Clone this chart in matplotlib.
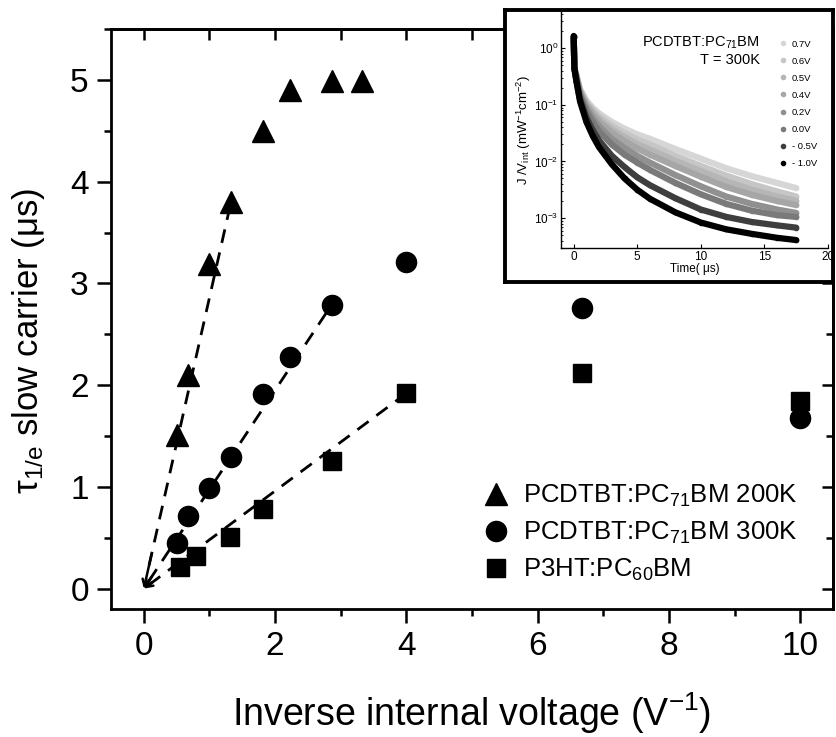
import matplotlib
matplotlib.use('Agg')
import matplotlib.pyplot as plt
import numpy as np
from matplotlib.ticker import MultipleLocator, LogLocator, NullFormatter
from matplotlib.lines import Line2D

plt.rcParams['font.family'] = ['Liberation Sans', 'DejaVu Sans']
plt.rcParams['mathtext.fontset'] = 'custom'
plt.rcParams['mathtext.rm'] = 'Liberation Sans'
plt.rcParams['mathtext.it'] = 'Liberation Sans:italic'
plt.rcParams['mathtext.bf'] = 'Liberation Sans:bold'
plt.rcParams['mathtext.sf'] = 'Liberation Sans'

# ---------------- main data ----------------
x_200K = [0.5, 0.67, 1.0, 1.33, 1.82, 2.22, 2.86, 3.33]
y_200K = [1.51, 2.10, 3.19, 3.80, 4.50, 4.90, 4.99, 4.99]
x_300K = [0.5, 0.67, 1.0, 1.33, 1.82, 2.22, 2.86, 4.0, 6.67, 10.0]
y_300K = [0.45, 0.715, 0.99, 1.29, 1.91, 2.28, 2.79, 3.21, 2.76, 1.68]
x_p3ht = [0.55, 0.79, 1.31, 1.82, 2.86, 4.0, 6.67, 10.0]
y_p3ht = [0.21, 0.32, 0.51, 0.78, 1.25, 1.92, 2.12, 1.84]
labels = ['PCDTBT:PC$_{71}$BM 200K', 'PCDTBT:PC$_{71}$BM 300K', 'P3HT:PC$_{60}$BM']

# linear fits through the origin (slope, end of fitted range)
fit_slopes = [2.86, 0.975, 0.48]
fit_xend = [1.33, 2.86, 4.0]

# ---------------- inset data ----------------
inset_t = [0.0, 0.05, 0.2, 0.5, 1, 1.5, 2, 3, 4, 5, 6, 8, 10, 12, 14, 16, 17.5]
inset_bias = ['0.7V', '0.6V', '0.5V', '0.4V', '0.2V', '0.0V', '- 0.5V', '- 1.0V']
# log10(J/V_int)
log_07 = [0.2, -0.35, -0.45, -0.72, -0.92, -1.05, -1.15, -1.30, -1.42, -1.52, -1.60, -1.78, -1.95, -2.12, -2.26, -2.38, -2.47]
log_06 = [0.2, -0.35, -0.47, -0.74, -0.95, -1.09, -1.20, -1.37, -1.50, -1.61, -1.70, -1.90, -2.08, -2.25, -2.40, -2.53, -2.62]
log_05 = [0.2, -0.35, -0.48, -0.76, -0.98, -1.13, -1.25, -1.43, -1.57, -1.69, -1.79, -1.99, -2.17, -2.35, -2.50, -2.62, -2.70]
log_04 = [0.2, -0.35, -0.49, -0.78, -1.01, -1.17, -1.30, -1.49, -1.64, -1.77, -1.88, -2.08, -2.27, -2.45, -2.59, -2.70, -2.77]
log_02 = [0.2, -0.35, -0.50, -0.81, -1.06, -1.24, -1.38, -1.60, -1.76, -1.90, -2.02, -2.24, -2.44, -2.62, -2.75, -2.85, -2.91]
log_00 = [0.2, -0.35, -0.52, -0.84, -1.11, -1.31, -1.47, -1.70, -1.88, -2.02, -2.15, -2.38, -2.58, -2.75, -2.87, -2.95, -2.98]
log_m05 = [0.2, -0.35, -0.55, -0.90, -1.22, -1.45, -1.63, -1.90, -2.10, -2.28, -2.42, -2.65, -2.85, -2.98, -3.07, -3.13, -3.17]
log_m10 = [0.22, -0.35, -0.57, -0.94, -1.30, -1.55, -1.75, -2.05, -2.30, -2.50, -2.66, -2.90, -3.08, -3.20, -3.28, -3.35, -3.39]
inset_logs = [log_07, log_06, log_05, log_04, log_02, log_00, log_m05, log_m10]
inset_colors = ['#d6d6d6', '#c6c6c6', '#b6b6b6', '#a6a6a6', '#909090', '#7a7a7a', '#3e3e3e', '#000000']

W, H = 836, 737
fig = plt.figure(figsize=(W / 100, H / 100), dpi=100)

# ---------------- main axes ----------------
L, R, T, B = 111, 833, 29, 609
ax = fig.add_axes([L / W, 1 - B / H, (R - L) / W, (B - T) / H])
ax.set_xlim(-0.5, 10.5)
ax.set_ylim(-0.2, 5.5)

ax.plot(x_200K, y_200K, ls='none', marker='^', color='k', ms=16.5, label=labels[0])
ax.plot(x_300K, y_300K, ls='none', marker='o', color='k', ms=14.5, label=labels[1])
ax.plot(x_p3ht, y_p3ht, ls='none', marker='s', color='k', ms=12.5, label=labels[2])

for s, xe in zip(fit_slopes, fit_xend):
    x0 = 0.08
    ax.plot([x0, xe], [x0 * s, xe * s], color='k', lw=2.0, ls=(0, (5, 3.5)), zorder=1)
    ax.annotate('', xy=(0, 0), xytext=(x0 * 1.5, x0 * 1.5 * s),
                arrowprops=dict(arrowstyle='->', color='k', lw=1.8, shrinkA=0, shrinkB=0,
                                mutation_scale=12))

ax.xaxis.set_major_locator(MultipleLocator(2))
ax.xaxis.set_minor_locator(MultipleLocator(1))
ax.yaxis.set_major_locator(MultipleLocator(1))
ax.yaxis.set_minor_locator(MultipleLocator(0.5))
ax.tick_params(which='both', direction='out', top=False, right=False, width=1.8, labelsize=24)
ax.tick_params(which='major', length=10, pad=6)
ax.tick_params(which='minor', length=5)
for sp in ax.spines.values():
    sp.set_linewidth(2.0)

secx = ax.secondary_xaxis('top')
secx.set_xticks(range(0, 11))
secx.tick_params(direction='in', length=8, width=1.8, labeltop=False)
secx.spines['top'].set_linewidth(2.0)
secy = ax.secondary_yaxis('right')
secy.yaxis.set_major_locator(MultipleLocator(1))
secy.yaxis.set_minor_locator(MultipleLocator(0.5))
secy.tick_params(which='both', direction='in', width=1.8, labelright=False)
secy.tick_params(which='major', length=8)
secy.tick_params(which='minor', length=5)
secy.spines['right'].set_linewidth(2.0)

ax.set_xlabel('Inverse internal voltage (V$^{-1}$)', fontsize=27, labelpad=20)
ax.set_ylabel(r'τ$_{\mathrm{1/e}}$ slow carrier (μs)', fontsize=25)
ax.yaxis.set_label_coords(-0.088, 0.462)

leg = ax.legend(loc='center left', bbox_to_anchor=(470 / W, 1 - 533 / H),
                bbox_transform=fig.transFigure, frameon=False, fontsize=18.5,
                handlelength=1.0, handletextpad=0.55, labelspacing=0.42, borderpad=0)

# ---------------- inset ----------------
fx0, fy0, fx1, fy1 = 505, 10, 833, 282
frame = fig.add_axes([fx0 / W, 1 - fy1 / H, (fx1 - fx0) / W, (fy1 - fy0) / H], zorder=5)
frame.set_xticks([])
frame.set_yticks([])
frame.set_facecolor('white')
for sp in frame.spines.values():
    sp.set_linewidth(2.8)

iL, iR, iT, iB = 561, 828, 12, 248
ins = fig.add_axes([iL / W, 1 - iB / H, (iR - iL) / W, (iB - iT) / H], zorder=6)
ins.patch.set_alpha(0)
ins.set_yscale('log')
ins.set_xlim(-1, 20)
ins.set_ylim(2.95e-4, 4.4)
for lg, c in zip(inset_logs, inset_colors):
    ins.plot(inset_t, 10 ** np.array(lg), color=c, lw=4.5, marker='o', ms=3,
             solid_capstyle='round', solid_joinstyle='round')
ins.spines['top'].set_visible(False)
ins.spines['right'].set_visible(False)
for sp in ['left', 'bottom']:
    ins.spines[sp].set_linewidth(1.0)
ins.xaxis.set_major_locator(MultipleLocator(5))
ins.yaxis.set_major_locator(LogLocator(base=10, numticks=10))
ins.yaxis.set_minor_locator(LogLocator(base=10, subs=np.arange(2, 10) * 1.0, numticks=10))
ins.yaxis.set_minor_formatter(NullFormatter())
ins.tick_params(which='both', direction='in', labelsize=8.5, pad=2)
ins.tick_params(which='major', length=3)
ins.tick_params(which='minor', length=1.5)
ins.set_xlabel('Time( μs)', fontsize=8.5, labelpad=0)
ins.set_ylabel(r'J /V$_{\mathrm{int}}$ (mW$^{-1}$cm$^{-2}$)', fontsize=9.5, labelpad=1)

handles = [Line2D([], [], ls='none', marker='o', ms=3, color=c) for c in inset_colors]
ins.legend(handles, inset_bias, loc='upper left', bbox_to_anchor=(774 / W, 1 - 35 / H),
           bbox_transform=fig.transFigure, frameon=False, fontsize=6.8,
           handlelength=0.8, handletextpad=0.6, labelspacing=0.85, borderpad=0)

fig.text(760 / W, 1 - 43 / H, 'PCDTBT:PC$_{71}$BM', ha='right', va='center', fontsize=10.5, zorder=10)
fig.text(760 / W, 1 - 60 / H, 'T = 300K', ha='right', va='center', fontsize=10.5, zorder=10)

fig.savefig('out.png', dpi=100)
